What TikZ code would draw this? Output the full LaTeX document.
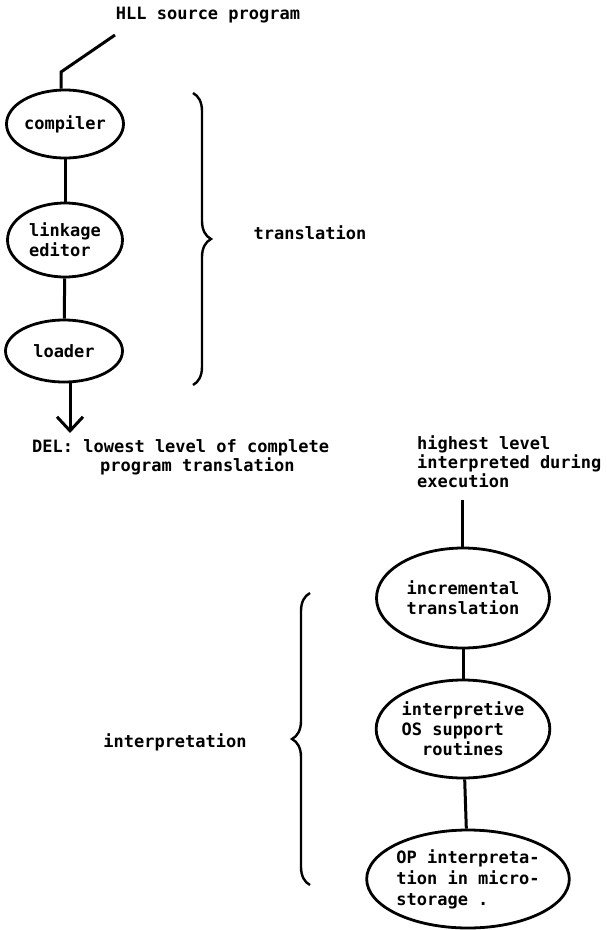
\documentclass[tikz,border=0pt]{standalone}
\usepackage{fontspec}
\setmonofont{DejaVu Sans Mono}
\usetikzlibrary{shapes.geometric,arrows.meta,decorations.pathreplacing}
\begin{document}
\begin{tikzpicture}[x=1pt,y=-1pt]
	\tikzstyle{stage} = [draw, ellipse, line width=2.8pt, inner sep=0pt, align=left]
	\tikzstyle{note} = [align=left, inner sep=0pt]
	\tikzset{edge/.style = {line width=3pt}}
	\tikzset{bracket/.style = {line width=2.4pt, decorate, decoration={brace, amplitude=18pt}}}
	\tikzset{every node/.style = {font=\ttfamily\bfseries\fontsize{17}{19}\selectfont}}
	
	\useasboundingbox (0,0) rectangle (607,930);
	
	\node[note](source) at (208,15) {HLL source program};
	\coordinate (sourceend) at (115,35);
	\coordinate (bend) at (61,72);
	
	\node[stage, minimum width=117pt, minimum height=68pt](compiler) at (65,124) {compiler};
	\node[stage, minimum width=115pt, minimum height=74pt, font=\ttfamily\bfseries\fontsize{17}{20}\selectfont](linkage) at (65,240) {linkage\\editor};
	\node[stage, minimum width=117pt, minimum height=62pt](loader) at (64,351) {loader};
	\coordinate (delend) at (70,433);
	\draw[edge](sourceend) -- (bend) -- (bend |- compiler.north);
	\draw[edge](compiler) to (linkage);
	\draw[edge](linkage) to (loader);
	\draw[edge, -{Straight Barb[length=14pt, width=26pt]}](loader.south -| delend) -- (delend);
	
	\node[note, anchor=north west](del) at (32,439) {DEL: lowest level of complete\\\hspace*{68pt}program translation};
	
	\coordinate (transtop) at (193,93);
	\coordinate (transbot) at (193,385);
	\draw[bracket](transtop) -- (transbot);
	\node[note](translation) at (310,233) {translation};
	
	\node[note, anchor=north west](highest) at (417,435) {highest level\\interpreted during\\execution};
	\coordinate (exectop) at (462,500);
	
	\node[stage, minimum width=173pt, minimum height=100pt, font=\ttfamily\bfseries\fontsize{17}{20}\selectfont](incremental) at (463,598) {incremental\\translation};
	\node[stage, minimum width=167pt, minimum height=98pt, font=\ttfamily\bfseries\fontsize{17}{20}\selectfont](support) at (463,729) {interpretive\\OS support\\\hphantom{OS}routines};
	\node[stage, minimum width=173pt, minimum height=98pt, font=\ttfamily\bfseries\fontsize{17}{21}\selectfont](micro) at (468,879) {OP interpreta-\\tion in micro-\\storage .};
	\draw[edge](exectop) -- (exectop |- incremental.north);
	\draw[edge](incremental) to (support);
	\draw[edge](support) to (micro);
	
	\coordinate (interbot) at (310,885);
	\coordinate (intertop) at (310,593);
	\draw[bracket](interbot) -- (intertop);
	\node[note](interpretation) at (175,742) {interpretation};
	
\end{tikzpicture}
\end{document}
